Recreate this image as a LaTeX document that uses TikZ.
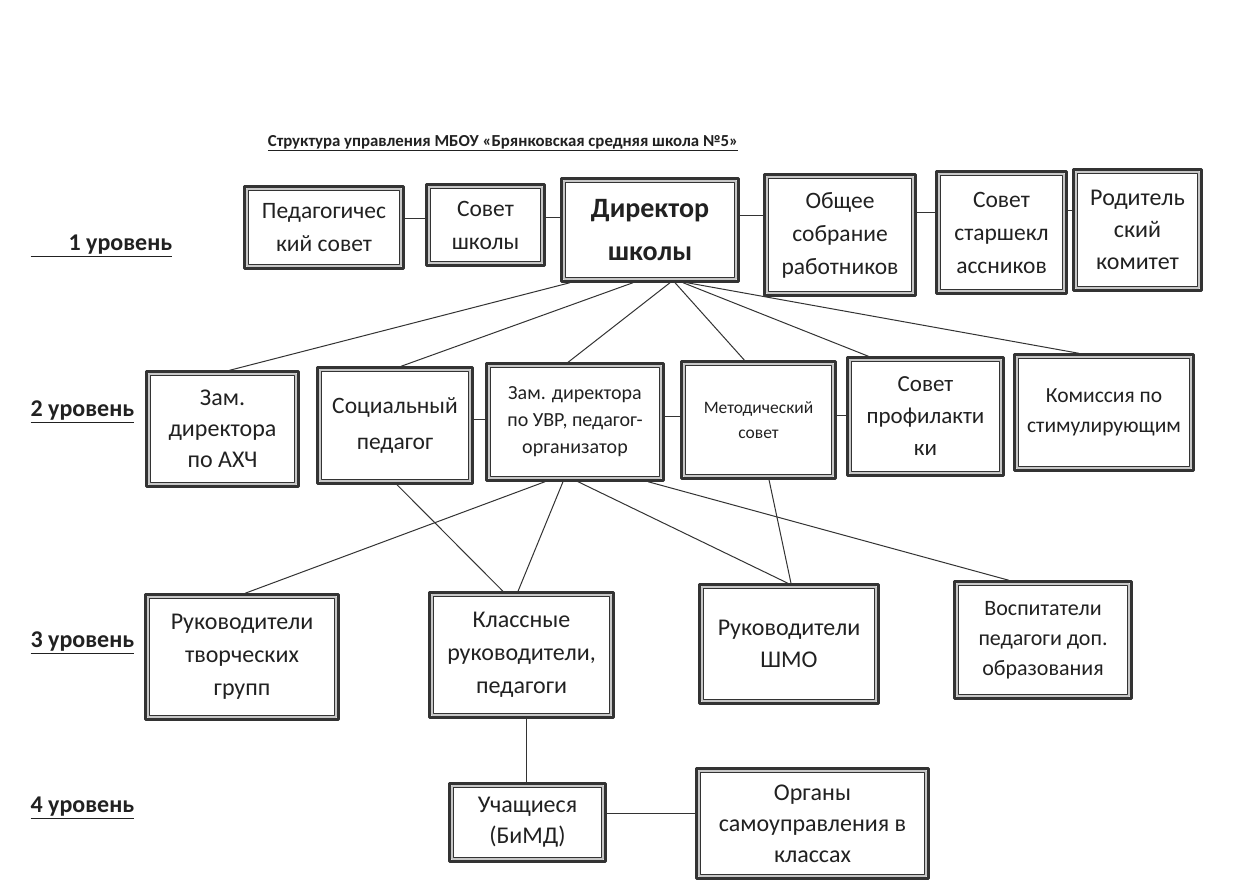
\documentclass[tikz,border=0pt]{standalone}
\usepackage{fontspec}
\setmainfont{Carlito}
\usepackage{tikz}
\usetikzlibrary{calc}
\definecolor{ttttqq}{rgb}{0.13,0.13,0.13}
\definecolor{qqqqqq}{rgb}{0.2,0.2,0.2}
\definecolor{bbbbbb}{rgb}{0.78,0.78,0.78}
\tikzstyle{every node}=[text=ttttqq]
\tikzstyle{box}=[draw=qqqqqq,line width=2.4pt,fill=white,align=center,inner sep=0pt,outer sep=1.2pt,
  font=\fontsize{23.5}{33}\selectfont,
  path picture={
    \draw[bbbbbb,line width=2pt] ([shift={(2.2pt,2.2pt)}]path picture bounding box.south west) rectangle ([shift={(-2.2pt,-2.2pt)}]path picture bounding box.north east);
    \draw[qqqqqq,line width=1pt] ([shift={(3.7pt,3.7pt)}]path picture bounding box.south west) rectangle ([shift={(-3.7pt,-3.7pt)}]path picture bounding box.north east);}]
\tikzstyle{lvl}=[anchor=west,font=\fontsize{24}{28}\selectfont\bfseries]
\tikzstyle{con}=[line width=1pt,color=qqqqqq]

\begin{document}
\begin{tikzpicture}[line cap=round,line join=round,x=1pt,y=-1pt]
\useasboundingbox (0,0) rectangle (1246,887);
\fill[white] (0,0) rectangle (1246,887);
% heading
\node (title) at (503,143) {\fontsize{16.8}{20}\selectfont\bfseries\underline{Структура управления МБОУ «Брянковская средняя школа №5»}};
\node[lvl] (l1) at (27,246) {\underline{\hspace*{38pt}1 уровень}};
\node[lvl] (l2) at (27,412) {\underline{2 уровень}};
\node[lvl] (l3) at (27,643) {\underline{3 уровень}};
\node[lvl] (l4) at (27,808) {\underline{4 уровень}};
% 1 level
\node[box,minimum width=159,minimum height=82] (ped) at (324,227.5) {Педагогичес\\кий совет};
\node[box,minimum width=118,minimum height=81] (sovsh) at (485.5,225) {Совет\\школы};
\node[box,minimum width=177,minimum height=103,font=\fontsize{28}{43}\selectfont\bfseries] (dir) at (650,230) {Директор\\школы};
\node[box,minimum width=151,minimum height=121,font=\fontsize{23.5}{33}\selectfont] (obsh) at (840,235) {Общее\\собрание\\работников};
\node[box,minimum width=130,minimum height=122,font=\fontsize{23.5}{33}\selectfont] (stars) at (1001.5,232.5) {Совет\\старшекл\\ассников};
\node[box,minimum width=128,minimum height=121,font=\fontsize{24}{32}\selectfont] (rod) at (1137.5,230) {Родитель\\ский\\комитет};
% 2 level
\node[box,minimum width=152,minimum height=115,font=\fontsize{24}{31}\selectfont] (ahc) at (222.5,429) {Зам.\\директора\\по АХЧ};
\node[box,minimum width=155,minimum height=116,font=\fontsize{23.5}{36}\selectfont] (soc) at (395,425.5) {Социальный\\педагог};
\node[box,minimum width=177,minimum height=117,font=\fontsize{20}{27}\selectfont] (uvr) at (575,422) {Зам. директора\\по УВР, педагог-\\организатор};
\node[box,minimum width=154,minimum height=117,font=\fontsize{17.5}{25}\selectfont] (met) at (758.5,420) {Методический\\совет};
\node[box,minimum width=156,minimum height=118,font=\fontsize{23}{32}\selectfont] (prof) at (925.5,416.5) {Совет\\профилакти\\ки};
\node[box,minimum width=179,minimum height=116,font=\fontsize{21.5}{30}\selectfont] (kom) at (1104,412.5) {Комиссия по\\стимулирующим};
% 3 level
\node[box,minimum width=193,minimum height=125,font=\fontsize{24}{33}\selectfont] (tvor) at (242,657) {Руководители\\творческих\\групп};
\node[box,minimum width=184,minimum height=125,font=\fontsize{24}{33}\selectfont] (klass) at (521.5,655) {Классные\\руководители,\\педагоги};
\node[box,minimum width=179,minimum height=119,font=\fontsize{24}{32}\selectfont] (shmo) at (789,644) {Руководители\\ШМО};
\node[box,minimum width=177,minimum height=117,font=\fontsize{22}{30}\selectfont] (vosp) at (1043,640) {Воспитатели\\педагоги доп.\\образования};
% 4 level
\node[box,minimum width=156,minimum height=78,font=\fontsize{24}{31}\selectfont] (uch) at (527.5,822.5) {Учащиеся\\(БиМД)};
\node[box,minimum width=232,minimum height=110,font=\fontsize{24}{31}\selectfont] (org) at (812.5,823.5) {Органы\\самоуправления в\\классах};
% links
\draw [con] ([yshift=9.5pt]ped.east) -- ([yshift=9.5pt]ped.east -| sovsh.west);
\draw [con] ([yshift=8pt]sovsh.east) -- ([yshift=8pt]sovsh.east -| dir.west);
\draw [con] ([yshift=15pt]dir.east) -- ([yshift=15pt]dir.east -| obsh.west);
\draw [con] ([yshift=23pt]obsh.east) -- ([yshift=23pt]obsh.east -| stars.west);
\draw [con] ([yshift=22.5pt]stars.east) -- ([yshift=22.5pt]stars.east -| rod.west);
\draw [con] ([xshift=-80pt]dir.south) -- ([xshift=7pt]ahc.north);
\draw [con] ([xshift=-17pt]dir.south) -- ([xshift=6pt]soc.north);
\draw [con] ([xshift=20pt]dir.south) -- ([xshift=-7pt]uvr.north);
\draw [con] ([xshift=25pt]dir.south) -- ([xshift=-14pt]met.north);
\draw [con] ([xshift=33pt]dir.south) -- ([xshift=-57pt]prof.north);
\draw [con] ([xshift=37pt]dir.south) -- ([xshift=-25pt]kom.north);
\draw [con] ([yshift=6.5pt]soc.east) -- ([yshift=6.5pt]soc.east -| uvr.west);
\draw [con] ([yshift=6pt]uvr.east) -- ([yshift=6pt]uvr.east -| met.west);
\draw [con] ([yshift=5pt]met.east) -- ([yshift=5pt]met.east -| prof.west);
\draw [con] ([xshift=-30pt]uvr.south) -- ([xshift=3pt]tvor.north);
\draw [con] ([xshift=2pt]soc.south) -- ([xshift=-18.5pt]klass.north);
\draw [con] ([xshift=-12pt]uvr.south) -- ([xshift=-3.5pt]klass.north);
\draw [con] ([xshift=3pt]uvr.south) -- ([xshift=-1pt]shmo.north);
\draw [con] ([xshift=73pt]uvr.south) -- ([xshift=-34pt]vosp.north);
\draw [con] ([xshift=10.5pt]met.south) -- ([xshift=2pt]shmo.north);
\draw [con] ([xshift=4.5pt]klass.south) -- ([xshift=4.5pt]klass.south |- uch.north);
\draw [con] ([yshift=9.5pt]uch.east) -- ([yshift=9.5pt]uch.east -| org.west);
\end{tikzpicture}
\end{document}
